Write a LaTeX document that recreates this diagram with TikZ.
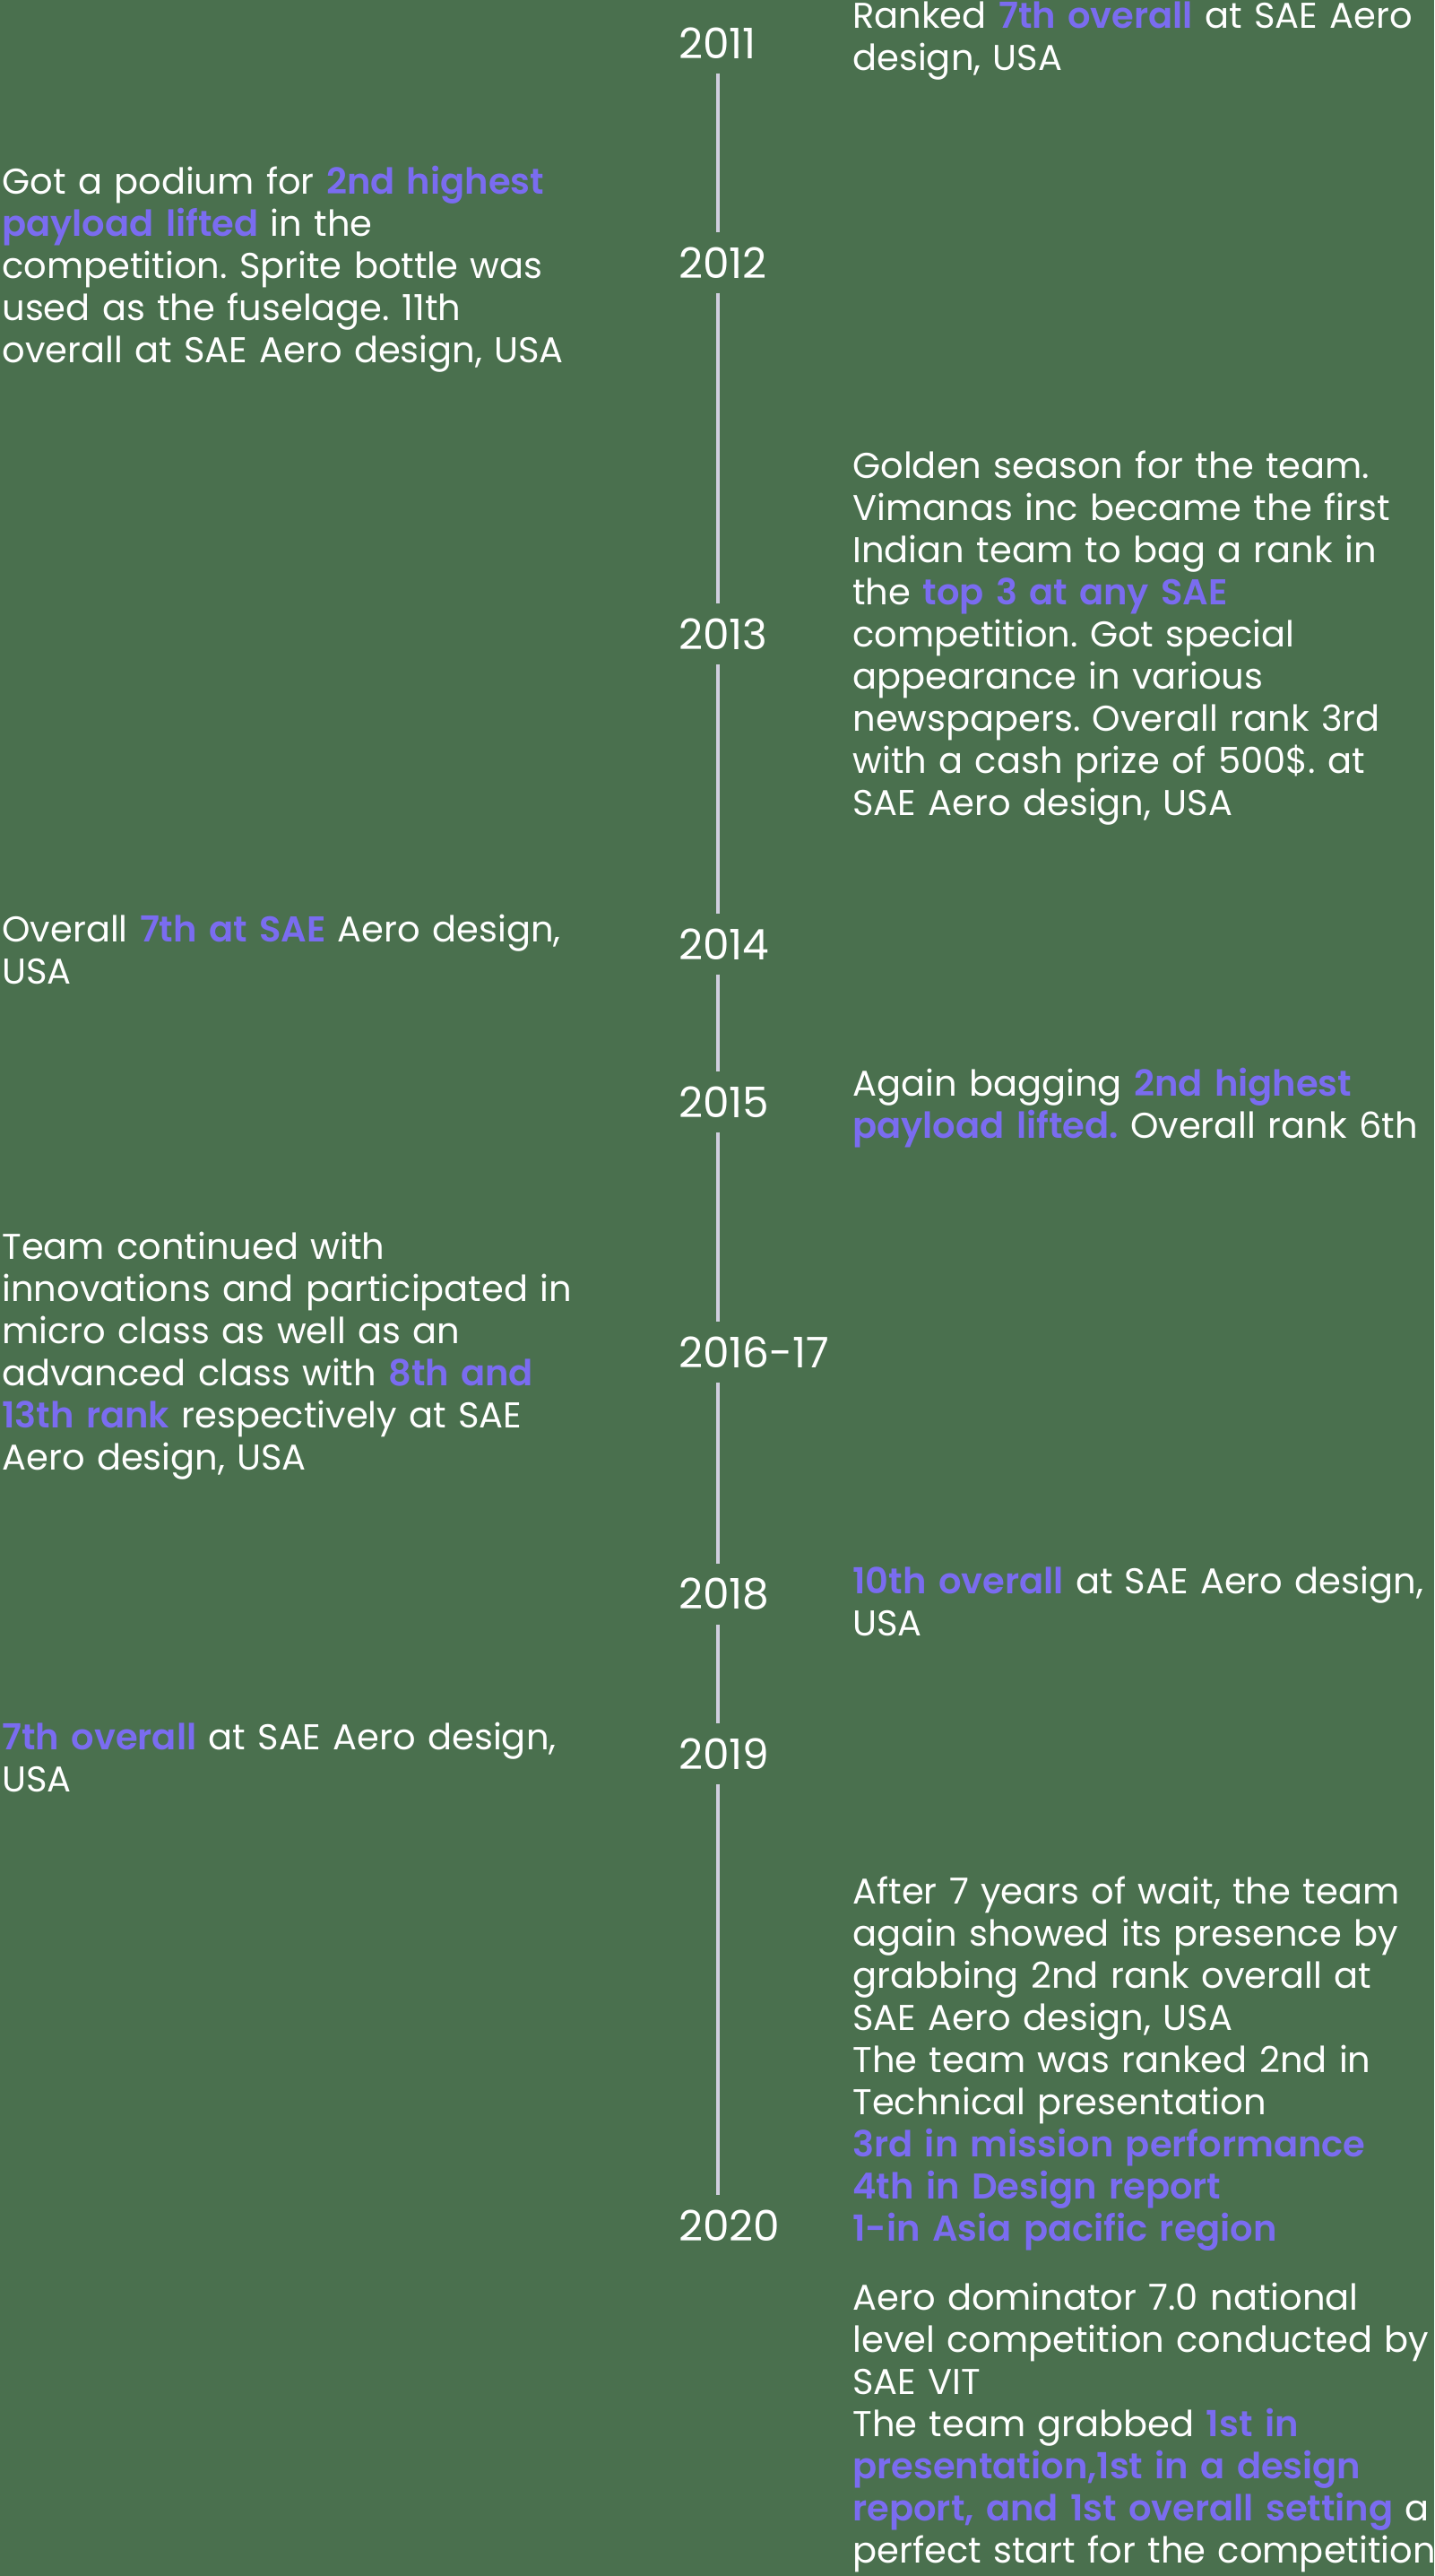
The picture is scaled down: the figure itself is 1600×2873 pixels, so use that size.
\documentclass[tikz,border=0pt]{standalone}
\usepackage{fontspec}
\setmainfont{Poppins}[BoldFont={Poppins SemiBold}]
\usetikzlibrary{positioning}
\definecolor{mybg}{RGB}{74, 112, 78}
\definecolor{mypurple}{RGB}{122, 108, 240}
\definecolor{myline}{RGB}{208, 206, 222}
\newcommand{\hl}[1]{\textcolor{mypurple}{\bfseries #1}}
\frenchspacing
\tikzset{
  yearbox/.style={
    inner sep=0pt, text width=44pt, align=left,
    font=\fontsize{23.5}{28}\selectfont, text=white
  },
  eventbox/.style={
    anchor=west, inner sep=0pt, text width=340pt, align=left,
    font=\fontsize{20}{23.5}\selectfont, text=white
  },
  timeline/.style={
    draw=myline, line width=2pt, shorten >=8pt, shorten <=8pt
  }
}

\begin{document}
\begin{tikzpicture}[x=0.5pt, y=-0.5pt]
  \useasboundingbox (0,0) rectangle (1600,2873);
  \fill[mybg] (0,0) rectangle (1600,2873);

  % years
  \node[yearbox] (y2011) at (801,48) {2011};
  \node[yearbox] (y2012) at (801,293) {2012};
  \node[yearbox] (y2013) at (801,707) {2013};
  \node[yearbox] (y2014) at (801,1053) {2014};
  \node[yearbox] (y2015) at (801,1229) {2015};
  \node[yearbox] (y2016) at (801,1508) {\mbox{2016-17}};
  \node[yearbox] (y2018) at (801,1778) {2018};
  \node[yearbox] (y2019) at (801,1956) {2019};
  \node[yearbox] (y2020) at (801,2482) {2020};

  \draw[timeline] (y2011) -- (y2012);
  \draw[timeline] (y2012) -- (y2013);
  \draw[timeline] (y2013) -- (y2014);
  \draw[timeline] (y2014) -- (y2015);
  \draw[timeline] (y2015) -- (y2016);
  \draw[timeline] (y2016) -- (y2018);
  \draw[timeline] (y2018) -- (y2019);
  \draw[timeline] (y2019) -- (y2020);

  % events
  \node[eventbox] (e2011) at (951,46) {Ranked \hl{7th overall} at SAE Aero\\design, USA};
  \node[eventbox] (e2012) at (2,300) {Got a podium for \hl{2nd highest}\\\hl{payload lifted} in the\\competition. Sprite bottle was\\used as the fuselage. 11th\\overall at SAE Aero design, USA};
  \node[eventbox] (e2013) at (951,712) {Golden season for the team.\\Vimanas inc became the first\\Indian team to bag a rank in\\the \hl{top 3 at any SAE}\\competition. Got special\\appearance in various\\newspapers. Overall rank 3rd\\with a cash prize of 500\$. at\\SAE Aero design, USA};
  \node[eventbox] (e2014) at (2,1059) {Overall \hl{7th at SAE} Aero design,\\USA};
  \node[eventbox] (e2015) at (951,1236) {Again bagging \hl{2nd highest}\\\hl{payload lifted.} Overall rank 6th};
  \node[eventbox] (e2016) at (2,1512) {Team continued with\\innovations and participated in\\micro class as well as an\\advanced class with \hl{8th and}\\\hl{13th rank} respectively at SAE\\Aero design, USA};
  \node[eventbox] (e2018) at (951,1786) {\hl{10th overall} at SAE Aero design,\\USA};
  \node[eventbox] (e2019) at (2,1960) {\hl{7th overall} at SAE Aero design,\\USA};
  \node[eventbox] (e2020) at (951,2481) {After 7 years of wait, the team\\again showed its presence by\\grabbing 2nd rank overall at\\SAE Aero design, USA\\The team was ranked 2nd in\\Technical presentation\\\hl{3rd in mission performance}\\\hl{4th in Design report}\\\hl{1-in Asia pacific region}\\[15pt]Aero dominator 7.0 national\\level competition conducted by\\SAE VIT\\The team grabbed \hl{1st in}\\\hl{presentation,1st in a design}\\\hl{report, and 1st overall setting} a\\perfect start for the competition};
\end{tikzpicture}
\end{document}
